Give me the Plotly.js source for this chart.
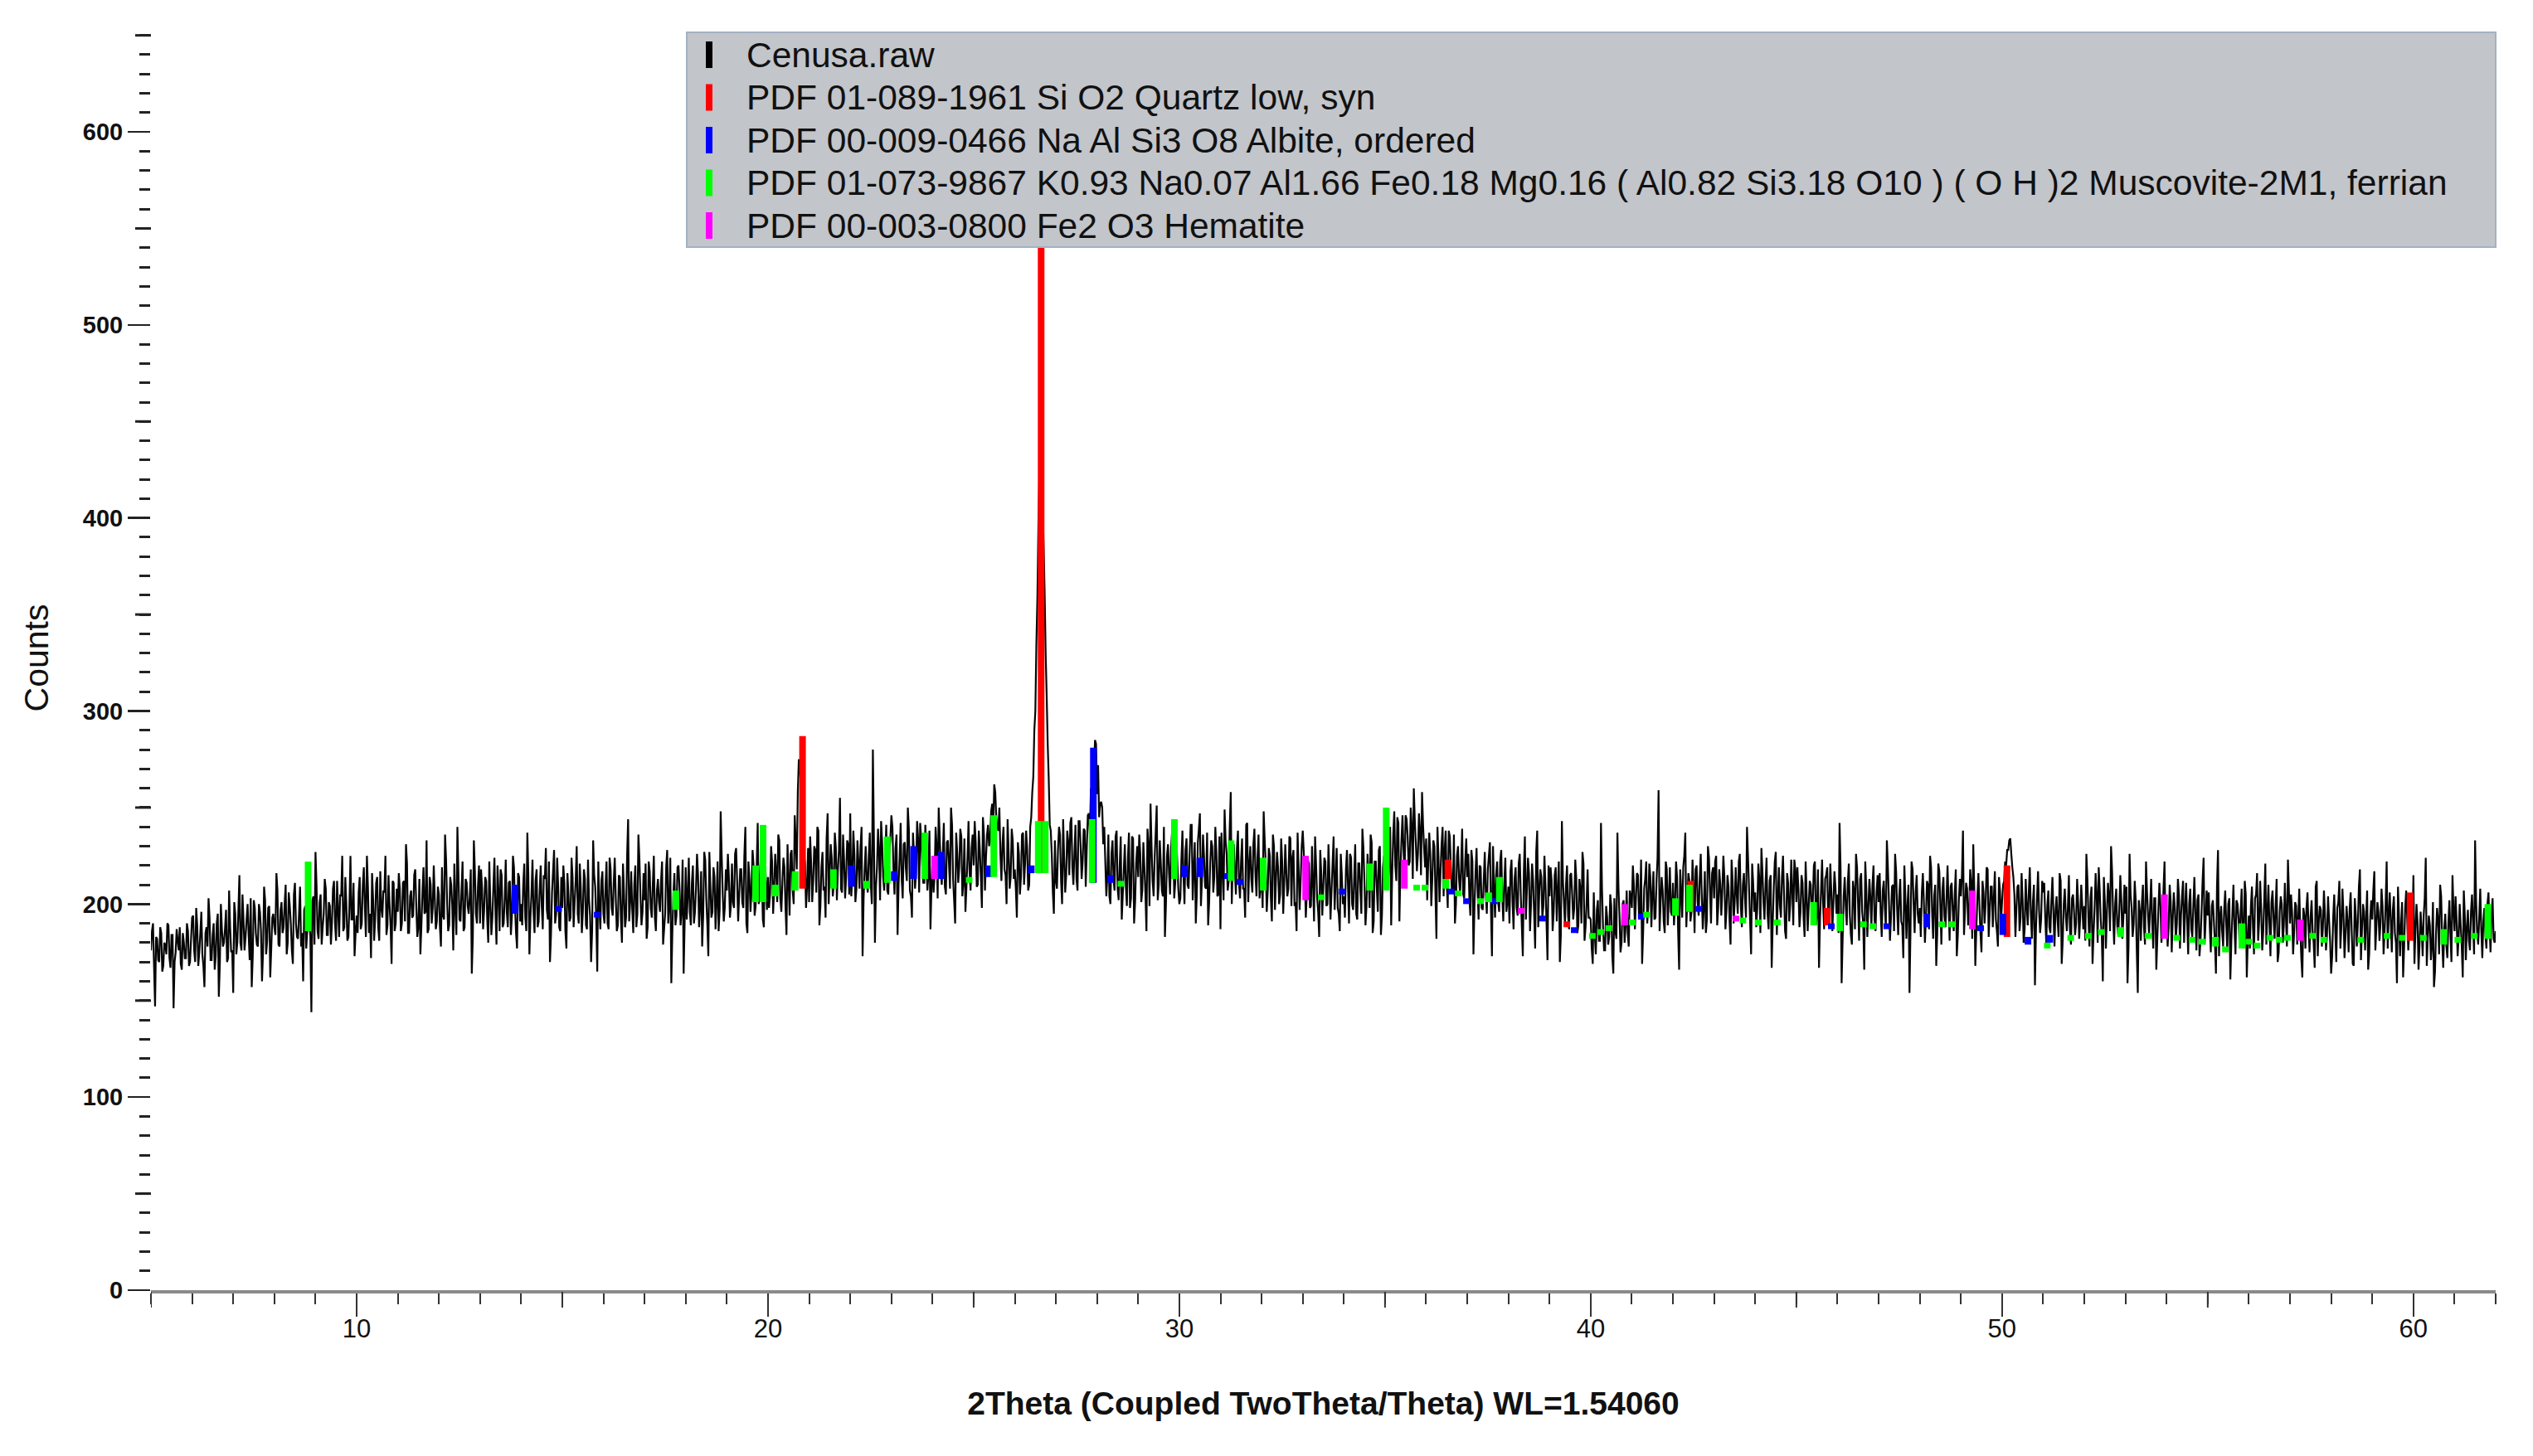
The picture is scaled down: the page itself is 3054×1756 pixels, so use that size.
<!DOCTYPE html>
<html>
<head>
<meta charset="utf-8">
<script src="https://cdn.plot.ly/plotly-3.0.1.min.js"></script>
<style>html,body{margin:0;padding:0;background:#fff}#chart{width:3054px;height:1756px}</style>
</head>
<body>
<div id="chart"></div>
<script>
// ---- raw scan (Cenusa.raw), 2Theta 5.000 .. 62.000, step 0.025 ----
// countsOnGrid: readings at 5.00, 5.05, 5.10, ... 62.00
// countsBetween: readings at 5.025, 5.075, ... 61.975
const twoThetaStart = 5.0;
const twoThetaStep = 0.025;
const countsOnGrid = [
176,190,147,182,170,185,168,179,190,172,184,146,175,181,188,166,180,172,186,170,
193,176,198,168,185,174,157,188,203,171,184,166,190,152,200,178,187,170,207,175,
154,195,180,215,176,192,183,200,171,157,202,185,178,196,160,209,174,198,162,193,
188,216,179,197,185,200,174,206,190,169,211,183,195,178,160,199,186,192,144,204,
227,186,201,179,195,208,184,199,190,212,181,197,205,225,188,200,183,225,192,173,
194,206,187,210,199,225,185,172,203,192,214,181,198,207,225,189,200,169,211,190,
196,208,190,212,231,185,204,193,215,199,188,174,206,195,233,187,210,198,203,191,
205,178,194,236,201,189,210,176,198,240,192,207,186,213,199,204,164,233,195,209,
190,208,197,212,180,201,193,224,179,206,218,188,203,196,211,184,225,199,177,214,
200,210,193,237,174,205,196,212,188,207,199,215,229,192,170,206,228,195,209,186,
198,211,177,205,193,214,201,230,190,208,196,213,187,202,170,233,209,165,199,212,
195,209,190,224,198,211,203,189,214,180,206,193,244,201,197,210,188,236,204,196,
202,182,222,198,210,193,207,201,212,179,195,228,200,159,205,189,219,208,197,164,
219,204,196,211,190,208,215,199,178,227,203,173,209,196,214,201,186,248,205,198,
207,214,200,201,226,212,205,218,198,240,185,213,207,220,199,242,209,216,188,211,
214,205,222,208,217,236,203,211,219,184,213,226,207,246,218,275,262,240,221,209,
201,221,212,228,240,189,219,207,193,247,215,224,210,229,218,255,206,223,214,231,
247,215,226,208,221,230,173,218,212,225,210,280,180,219,228,243,214,223,207,226,
246,218,229,184,224,213,231,219,250,207,193,226,216,234,242,220,211,228,215,187,
223,214,230,250,218,226,209,232,221,250,213,190,227,219,235,211,196,224,217,229,
220,232,210,228,198,236,224,241,233,252,262,245,238,226,231,218,200,227,214,233,
218,193,226,214,237,221,229,210,245,266,300,359,422,425,387,330,283,241,225,195,
212,228,236,200,224,215,232,242,219,227,213,243,230,222,238,229,247,260,275,285,
257,245,253,231,222,215,204,226,213,235,208,220,192,218,209,224,198,235,190,221,
214,226,207,219,186,231,252,212,224,251,210,221,204,183,225,216,229,240,211,222,
200,223,215,228,210,226,241,218,190,232,247,213,225,208,189,221,230,214,227,205,
187,219,249,226,212,258,224,217,229,211,222,208,193,242,220,213,231,216,224,203,
216,248,221,207,225,191,230,213,219,205,222,211,217,208,234,224,199,186,218,212,
238,214,206,221,199,211,235,203,183,216,209,222,200,214,207,235,212,198,186,215,
204,218,209,226,200,213,195,221,207,239,211,199,216,236,185,222,208,228,184,219,
215,231,224,189,236,220,245,191,233,228,246,235,222,240,260,231,226,238,258,229,
234,221,226,213,230,182,224,217,240,228,211,238,220,207,190,225,213,219,205,222,
214,203,228,174,216,207,220,198,212,205,218,232,173,209,215,201,222,204,211,196,
209,217,201,213,198,221,205,173,235,208,216,200,212,177,238,206,214,199,210,171,
204,212,196,219,207,170,243,201,210,194,215,205,198,213,189,208,227,181,200,193,
192,169,184,197,181,242,188,176,193,183,199,164,186,237,194,180,202,189,185,207,
198,210,203,215,196,169,208,222,199,214,205,192,212,259,201,207,185,218,204,196,
211,200,214,166,207,219,237,203,212,196,209,218,201,213,205,198,185,230,207,216,
203,225,198,210,207,214,196,209,179,212,201,205,222,199,210,203,240,208,174,211,
206,198,213,229,201,210,195,212,167,208,227,203,199,214,205,182,211,200,207,223,
201,208,196,211,183,205,199,210,202,222,194,167,207,200,213,219,198,206,201,209,
205,242,159,204,199,211,194,179,207,226,200,213,196,166,208,198,203,210,192,206,
201,195,207,198,233,202,193,210,226,197,204,191,172,203,199,154,222,200,206,195,
198,206,201,193,210,225,196,204,168,221,199,207,194,203,200,209,197,205,173,202,
204,238,197,208,195,211,231,168,203,199,175,206,200,218,196,209,203,192,178,207,
201,212,220,228,234,219,205,198,210,193,202,187,199,206,195,201,158,203,197,192,
206,193,199,188,202,195,197,191,216,169,200,194,198,187,203,196,190,201,193,199,
199,226,193,203,169,198,205,219,192,160,201,196,204,230,194,200,189,197,202,193,
195,159,226,198,190,202,154,196,201,188,222,194,199,191,203,166,197,200,189,222,
196,188,201,193,198,190,205,194,212,197,191,200,187,199,195,202,173,196,224,192,
194,188,199,191,164,228,193,186,197,190,200,161,195,188,202,192,196,185,212,162,
194,199,188,203,216,191,197,186,221,195,190,201,193,198,170,196,200,189,194,223,
190,196,185,199,192,187,162,194,198,189,193,186,167,212,191,197,188,195,184,192,
164,193,187,198,212,189,195,184,191,197,186,168,194,190,218,187,196,192,166,193,
192,217,188,196,190,199,186,222,194,191,197,185,159,193,189,162,198,192,187,195,
215,186,191,180,187,194,224,183,189,178,157,185,192,210,181,187,179,190,184,215,
186,192,183,189,162,194,188,181,196,190,233,185,193,187,191,184,200,189,195,182,
186
];
const countsBetween = [
186,168,183,171,188,165,180,174,189,167,184,170,187,176,169,185,172,190,168,182,
194,170,189,175,196,168,185,178,193,171,190,173,195,169,187,180,197,172,188,176,
201,174,196,180,205,176,192,184,203,173,198,179,200,186,175,202,181,199,177,195,
184,207,178,201,188,210,180,199,176,205,190,182,209,185,197,177,206,183,202,179,
210,182,205,188,213,184,201,179,208,190,212,183,204,186,214,181,199,192,211,185,
185,214,190,219,183,209,195,216,181,211,188,217,193,206,184,215,189,212,186,208,
216,186,211,191,221,185,207,194,218,183,213,189,219,196,185,214,190,220,187,209,
188,219,192,223,186,214,199,221,184,216,191,222,188,211,195,218,183,217,190,220,
218,187,214,192,222,184,209,196,220,186,215,190,223,188,212,194,219,185,216,191,
189,221,186,215,193,223,185,218,191,220,187,213,197,222,184,217,190,224,188,214,
220,186,216,191,224,188,212,195,221,185,218,189,223,194,186,215,192,222,187,217,
190,222,187,218,194,224,186,215,192,221,188,225,191,217,185,220,195,223,189,216,
221,188,217,193,225,186,213,196,222,187,219,190,224,185,216,194,220,189,223,191,
192,224,189,220,196,226,188,217,194,223,190,227,193,219,187,222,197,225,191,218,
226,193,221,198,229,191,218,201,225,190,222,196,228,194,219,200,224,192,227,197,
198,230,195,226,201,233,196,224,199,231,194,228,200,232,258,270,248,226,198,229,
235,201,230,206,238,199,227,209,234,200,231,204,237,202,228,208,236,203,233,205,
204,238,201,233,208,240,203,230,206,237,200,235,209,239,202,232,207,241,205,234,
240,205,236,210,242,203,232,212,239,204,237,208,243,206,233,211,241,207,238,209,
206,240,203,235,210,242,205,233,208,241,202,237,211,239,204,234,209,243,207,236,
243,209,238,214,245,207,236,230,248,238,258,240,250,212,240,215,244,208,239,213,
208,232,205,236,210,238,207,240,258,290,335,398,428,408,362,308,265,238,206,233,
208,240,212,244,206,238,215,245,210,241,207,243,213,239,209,246,236,254,270,283,
272,252,250,240,204,236,200,233,207,238,202,235,205,231,199,237,203,234,201,230,
236,201,232,206,239,199,230,204,237,202,233,207,240,200,231,205,238,203,235,208,
203,238,200,234,208,241,202,232,205,239,199,236,209,237,201,233,206,240,204,235,
237,202,233,207,240,200,231,205,238,203,234,208,241,201,230,206,239,204,236,209,
198,233,196,229,203,236,197,227,200,234,195,231,204,235,199,228,201,237,197,230,
227,193,223,198,230,191,220,196,228,194,224,199,231,192,221,197,229,195,226,200,
193,228,190,224,197,231,192,221,195,229,189,226,198,232,191,222,196,230,194,225,
245,211,240,216,248,212,242,218,246,214,244,220,250,213,243,217,247,215,241,219,
202,237,199,233,206,240,201,231,204,238,198,235,207,236,200,230,205,239,203,234,
226,194,222,199,229,192,219,197,227,195,225,198,230,193,222,196,228,191,224,201,
190,223,187,219,194,226,189,217,192,224,186,221,195,227,188,218,193,225,191,220,
219,186,215,191,222,184,212,189,220,187,216,192,223,185,213,190,221,188,218,193,
177,206,174,202,181,208,176,199,179,205,173,203,182,209,175,200,180,207,178,204,
220,187,216,192,223,185,213,190,221,188,217,193,224,186,214,191,222,189,219,194,
189,222,186,218,193,225,188,216,191,223,185,220,194,226,187,217,192,224,190,219,
222,189,218,194,225,187,215,192,223,190,219,195,226,188,216,193,224,191,221,196,
188,221,185,217,192,224,187,215,190,222,184,219,193,225,186,216,191,223,189,218,
219,188,215,193,222,186,212,191,220,189,218,192,223,187,215,190,221,186,217,195,
185,218,182,214,189,221,184,212,187,219,181,216,190,222,183,213,188,220,186,215,
216,183,212,188,219,181,209,186,217,184,213,189,220,182,210,187,218,185,215,190,
183,216,180,212,187,219,182,210,185,217,179,214,188,220,181,211,186,218,184,213,
215,184,211,189,218,182,208,187,216,185,212,190,219,183,209,188,217,186,214,191,
210,222,228,233,226,214,183,209,186,216,180,213,189,219,182,210,187,217,185,212,
211,180,207,185,214,178,204,183,212,181,208,186,215,179,205,184,213,182,210,187,
181,213,178,209,185,216,180,207,183,214,177,211,186,217,179,208,184,215,182,210,
209,178,205,183,212,176,202,181,210,179,206,184,213,177,203,182,211,180,208,185,
178,210,175,206,182,213,177,204,180,211,174,208,183,214,176,205,181,212,179,207,
206,175,202,180,209,173,199,178,207,176,203,181,210,174,200,179,208,177,205,182,
177,209,174,205,181,212,176,203,179,210,173,207,182,213,175,204,180,211,178,206,
205,174,201,179,208,172,198,177,206,175,202,180,209,173,199,178,207,176,204,181,
173,205,170,201,177,208,172,199,175,206,169,203,178,209,171,200,176,207,174,202,
207,176,201,181,208,174,200,177,206,175,204,180,209,173,201,178,207,176,203,183,
169,200,166,196,173,203,168,194,171,201,165,198,174,204,167,195,172,202,170,197,
204,173,200,178,207,171,197,176,205,174,201,179,208,172,198,177,206,175,203,180
];

// ---- reference patterns (stick position, stick base, stick top, in counts) ----
const quartzPos  = [20.84, 26.64, 36.53, 39.42, 42.43, 45.75, 50.12, 59.92];
const quartzBase = [208, 216, 213, 188, 196, 189, 183, 181];
const quartzTop  = [287, 545, 223, 191, 212, 198, 220, 206];

const albitePos  = [13.85, 14.91, 15.85, 22.03, 23.07, 23.54, 24.21, 25.36, 26.40, 27.91,
                    28.33, 30.13, 30.50, 31.17, 31.47, 33.96, 36.61, 36.98, 37.65, 38.83,
                    39.60, 41.23, 42.63, 45.85, 47.20, 48.17, 49.48, 50.02, 50.63, 51.16];
const albiteBase = [195, 196, 193, 209, 212, 213, 213, 214, 216, 211,
                    211, 214, 214, 213, 210, 205, 205, 200, 200, 191,
                    185, 192, 196, 187, 187, 188, 186, 184, 179, 180];
const albiteTop  = [210, 199, 196, 220, 217, 230, 227, 220, 220, 281,
                    215, 220, 224, 216, 213, 208, 208, 203, 203, 194,
                    188, 195, 199, 190, 190, 195, 189, 195, 183, 184];

const muscovitePos  = [8.82, 17.76, 19.70, 19.88, 20.18, 20.66, 21.59, 22.40, 22.90, 23.81,
                       24.89, 25.49, 26.57, 26.74, 27.88, 28.58, 29.88, 31.26, 32.04, 33.45,
                       34.63, 35.03, 35.77, 35.97, 36.48, 36.78, 37.32, 37.52, 37.78, 40.04,
                       40.24, 40.44, 41.01, 41.36, 42.06, 42.40, 43.70, 44.07, 44.54, 45.42,
                       46.06, 46.63, 46.86, 48.54, 48.78, 51.10, 51.67, 52.10, 52.41, 52.88,
                       53.55, 54.25, 54.62, 54.86, 55.19, 55.43, 55.83, 56.00, 56.20, 56.51,
                       56.74, 56.94, 57.55, 57.82, 58.72, 59.36, 59.73, 60.24, 60.74, 61.08,
                       61.48, 61.81];
const muscoviteBase = [186, 197, 201, 201, 204, 207, 208, 208, 211, 213,
                       211, 214, 216, 216, 211, 209, 213, 212, 207, 202,
                       207, 207, 207, 207, 208, 204, 200, 201, 201, 182,
                       184, 186, 189, 193, 194, 196, 190, 189, 189, 189,
                       186, 188, 187, 188, 188, 177, 181, 182, 184, 183,
                       182, 181, 180, 179, 178, 175, 177, 179, 177, 181,
                       180, 181, 182, 180, 180, 182, 181, 181, 179, 180,
                       182, 182];
const muscoviteTop  = [222, 207, 220, 241, 210, 217, 218, 212, 235, 237,
                       214, 246, 243, 243, 244, 212, 244, 233, 224, 205,
                       221, 250, 210, 210, 213, 207, 203, 206, 214, 185,
                       187, 189, 192, 196, 203, 210, 193, 192, 192, 201,
                       195, 191, 190, 191, 191, 180, 184, 185, 187, 188,
                       185, 184, 183, 182, 183, 178, 190, 182, 180, 184,
                       183, 184, 185, 183, 183, 185, 184, 184, 187, 183,
                       185, 200];

const hematitePos  = [24.05, 33.07, 35.47, 38.31, 40.83, 43.53, 49.28, 53.95, 57.25];
const hematiteBase = [213, 202, 208, 195, 189, 191, 187, 182, 181];
const hematiteTop  = [225, 225, 223, 198, 200, 194, 207, 205, 192];

// ---- text ----
const legendLabels = [
  'Cenusa.raw',
  'PDF 01-089-1961 Si O2 Quartz low, syn',
  'PDF 00-009-0466 Na Al Si3 O8 Albite, ordered',
  'PDF 01-073-9867 K0.93 Na0.07 Al1.66 Fe0.18 Mg0.16 ( Al0.82 Si3.18 O10 ) ( O H )2 Muscovite-2M1, ferrian',
  'PDF 00-003-0800 Fe2 O3 Hematite'
];
const xTitle = '2Theta (Coupled TwoTheta/Theta) WL=1.54060';
const yTitle = 'Counts';

// ---- build traces ----
const rawY = [];
for (let i = 0; i < countsOnGrid.length; i++) {
  rawY.push(countsOnGrid[i]);
  if (i < countsBetween.length) rawY.push(countsBetween[i]);
}
const rawX = rawY.map((_, i) => +(twoThetaStart + i * twoThetaStep).toFixed(3));

function stickTrace(pos, base, top, color, name) {
  const x = [], y = [];
  for (let i = 0; i < pos.length; i++) {
    x.push(pos[i], pos[i], null);
    y.push(base[i], top[i], null);
  }
  return {type: 'scatter', mode: 'lines', x, y, name, connectgaps: false,
          line: {color, width: 8}, hoverinfo: 'skip'};
}

const colors = ['#000000', '#ff0000', '#0000ff', '#00ff00', '#ff00ff'];

const traces = [
  {type: 'scatter', mode: 'lines', x: rawX, y: rawY, name: legendLabels[0],
   line: {color: 'rgb(5,5,5)', width: 2.2, simplify: false}},
  stickTrace(quartzPos, quartzBase, quartzTop, colors[1], legendLabels[1]),
  stickTrace(albitePos, albiteBase, albiteTop, colors[2], legendLabels[2]),
  stickTrace(muscovitePos, muscoviteBase, muscoviteTop, colors[3], legendLabels[3]),
  stickTrace(hematitePos, hematiteBase, hematiteTop, colors[4], legendLabels[4])
];

// ---- layout decorations ----
const W = 3054, H = 1756;
const M = {l: 182, r: 45, t: 31, b: 200};
const plotW = W - M.l - M.r, plotH = H - M.t - M.b;
const px2paperX = p => (p - M.l) / plotW;
const px2paperY = p => (H - M.b - p) / plotH;

const shapes = [];
// medium ticks on x every 5 (between the 10s)
[5, 15, 25, 35, 45, 55].forEach(v => shapes.push({
  type: 'line', xref: 'x', yref: 'paper', x0: v, x1: v,
  ysizemode: 'pixel', yanchor: 0, y0: -2, y1: -21,
  line: {color: '#333', width: 2}
}));
// medium ticks on y every 50
[50, 150, 250, 350, 450, 550, 650].forEach(v => shapes.push({
  type: 'line', xref: 'paper', yref: 'y', y0: v, y1: v,
  xsizemode: 'pixel', xanchor: 0, x0: 0, x1: -19,
  line: {color: '#222', width: 3}
}));

// legend box
const legBox = {x0: 828, x1: 3009, y0: 39, y1: 298};
shapes.push({
  type: 'rect', xref: 'paper', yref: 'paper', layer: 'above',
  x0: px2paperX(legBox.x0), x1: px2paperX(legBox.x1),
  y0: px2paperY(legBox.y1), y1: px2paperY(legBox.y0),
  fillcolor: '#c2c5ca', line: {color: '#a3b1c2', width: 2}
});
const rowY = [66, 117.5, 169, 220.5, 272];
const annotations = [];
legendLabels.forEach((lab, i) => {
  shapes.push({
    type: 'rect', xref: 'paper', yref: 'paper', layer: 'above',
    x0: px2paperX(851), x1: px2paperX(859),
    y0: px2paperY(rowY[i] + 16), y1: px2paperY(rowY[i] - 16),
    fillcolor: colors[i], line: {width: 0}
  });
  annotations.push({
    xref: 'paper', yref: 'paper', x: px2paperX(898), y: px2paperY(rowY[i]),
    xanchor: 'left', yanchor: 'middle', showarrow: false, text: lab,
    font: {size: 42.5, color: '#111', family: 'Liberation Sans, Arial, sans-serif'}
  });
});

const layout = {
  width: W, height: H, margin: M,
  paper_bgcolor: '#ffffff', plot_bgcolor: '#ffffff',
  showlegend: false,
  font: {family: 'Liberation Sans, Arial, sans-serif', color: '#000'},
  xaxis: {
    range: [5, 62], tick0: 0, dtick: 10, ticks: 'outside', ticklen: 28, tickwidth: 2, tickcolor: '#333',
    minor: {dtick: 1, tick0: 0, ticks: 'outside', ticklen: 13, tickwidth: 2, tickcolor: '#333', showgrid: false},
    showline: true, linecolor: '#8a8a8a', linewidth: 4, showgrid: false, zeroline: false,
    tickfont: {size: 31, color: '#111'}, ticklabelstandoff: -12,
    title: {text: xTitle, font: {size: 39, weight: 'bold', color: '#111'}, standoff: 60},
    automargin: false
  },
  yaxis: {
    range: [0, 655], tick0: 0, dtick: 100, ticks: 'outside', ticklen: 27, tickwidth: 2.5, tickcolor: '#222',
    minor: {dtick: 10, tick0: 0, ticks: 'outside', ticklen: 13, tickwidth: 3, tickcolor: '#222', showgrid: false},
    showline: false, showgrid: false, zeroline: false,
    tickfont: {size: 29, weight: 'bold', color: '#111'},
    title: {text: yTitle, font: {size: 41, color: '#111'}, standoff: 28},
    automargin: false
  },
  shapes, annotations
};

Plotly.newPlot('chart', traces, layout, {staticPlot: true, displayModeBar: false});
</script>
</body>
</html>
